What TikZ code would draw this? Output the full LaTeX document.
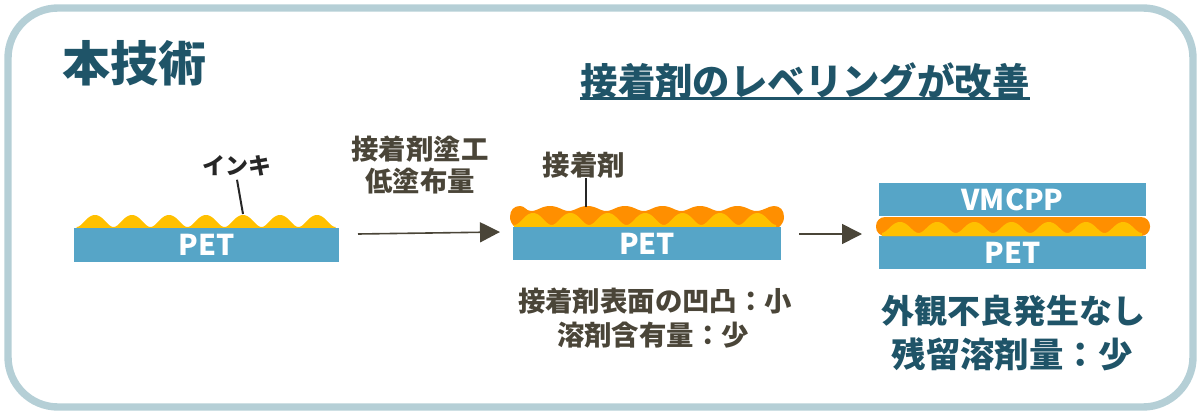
\documentclass[tikz,border=0pt]{standalone}
\usepackage{fontspec}
\setmainfont{Noto Sans CJK JP}
\usetikzlibrary{arrows.meta}
\definecolor{framecol}{HTML}{B5CFD6}
\definecolor{petcol}{HTML}{56A5C7}
\definecolor{inkcol}{HTML}{FFC000}
\definecolor{gluecol}{HTML}{FF8F00}
\definecolor{headcol}{HTML}{1F5468}
\definecolor{textcol}{HTML}{4A4538}
\tikzset{
  layer/.style={fill=petcol,text=white,font=\fontsize{14.3}{14}\selectfont\bfseries,inner sep=0pt},
  note/.style={text=textcol,font=\fontsize{13.7}{14}\selectfont\bfseries,inner sep=0pt},
  result/.style={text=headcol,font=\fontsize{16.5}{18}\selectfont\bfseries,inner sep=0pt},
  leader/.style={line width=1pt,black!85},
  flow/.style={line width=0.8pt,textcol,-{Triangle[length=10pt,width=10pt]}}
}
\begin{document}
\begin{tikzpicture}[x=0.5pt,y=-0.5pt,declare function={hump(\t)=cos(\t)+0.15*sin(\t)^2;}]
  \useasboundingbox (0,0) rectangle (1200,417);
  \draw[framecol,line width=3.7pt,rounded corners=25pt] (8,8) rectangle (1193,407);
  \node[text=headcol,font=\fontsize{24}{24}\selectfont\bfseries,inner sep=0pt] (skill) at (134,63) {本技術};
  \node[text=headcol,font=\fontsize{18.7}{20}\selectfont\bfseries,inner sep=0pt] (title) at (805,81) {接着剤のレベリングが改善};
  \coordinate (ulL) at (580,99);
  \coordinate (ulR) at (1030,99);
  \draw[headcol,line width=1.5pt] (ulL) -- (ulR);

  % first stack
  \fill[inkcol] (76.5,228) -- plot[domain=76.5:335.5,samples=160] (\x,{221-6*hump(360/37*(\x-95))}) -- (335.5,228) -- cycle;
  \node[layer,minimum width=132.5pt,minimum height=17pt] (petA) at (206.5,245) {PET};
  \node[text=black!85,font=\fontsize{11.5}{12}\selectfont\bfseries,inner sep=0pt] (inkLabel) at (237,166) {インキ};
  \coordinate (inkTop) at (243,214);
  \draw[leader] (inkLabel.south) ++(0,3) -- (inkTop);

  % second stack
  \fill[gluecol] (516,228) .. controls (511,224) and (510,220) .. (510,217) .. controls (510,210) and (514,206) .. (520,206)
    .. controls (525,206) and (526,211) .. (531,211)
    -- plot[domain=531:756,samples=160] (\x,{208.5-2.5*hump(360/37.5*(\x-550))})
    .. controls (764,211) and (768,206) .. (774,206) .. controls (780,206) and (784,210) .. (784,217)
    .. controls (784,220) and (783,224) .. (778,228) -- cycle;
  \fill[inkcol] (514,228) -- plot[domain=514:776,samples=160] (\x,{219-6*hump(360/37.4*(\x-533))}) -- (776,228) -- cycle;
  \node[layer,minimum width=134pt,minimum height=16.5pt] (petB) at (647,243.5) {PET};
  \node[note] (glueLabel) at (584,165) {接着剤};
  \coordinate (glueTop) at (586,207);
  \draw[leader] (586,178) -- (glueTop);

  % third stack
  \node[layer,minimum width=133.5pt,minimum height=16.5pt] (vmcpp) at (1012.5,199.5) {VMCPP};
  \node[layer,minimum width=133.5pt,minimum height=16.5pt] (petC) at (1012.5,252.5) {PET};
  \fill[gluecol,rounded corners=4.5pt] (876,217) rectangle (1150,236);
  \fill[inkcol] (882,236) -- plot[domain=882:1142,samples=160] (\x,{227.5-5.5*hump(360/37.2*(\x-900))}) -- (1142,236) -- cycle;

  % arrows
  \coordinate (flowA) at (358,234);
  \coordinate (flowB) at (500,232);
  \coordinate (flowC) at (799,234);
  \coordinate (flowD) at (862,234);
  \draw[flow] (flowA) -- (flowB);
  \draw[flow] (flowC) -- (flowD);

  \node[note] (stepA) at (420,149) {接着剤塗工};
  \node[note] (stepB) at (420,181) {低塗布量};
  \node[note] (noteA) at (655,301) {接着剤表面の凹凸：小};
  \node[note] (noteB) at (653,335) {溶剤含有量：少};
  \node[result] (resA) at (1013,311) {外観不良発生なし};
  \node[result,font=\fontsize{17.2}{18}\selectfont\bfseries] (resB) at (1012,354) {残留溶剤量：少};
\end{tikzpicture}
\end{document}
